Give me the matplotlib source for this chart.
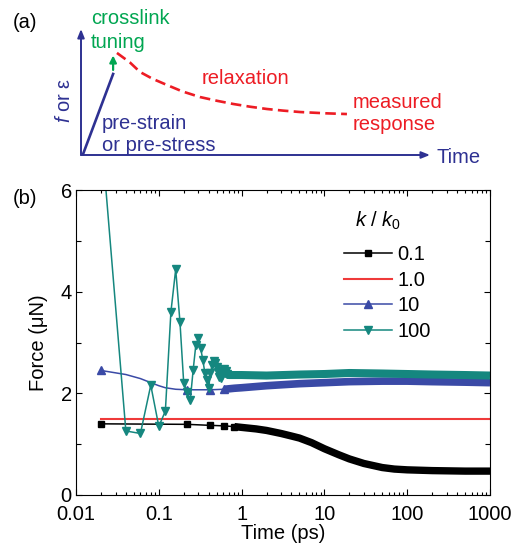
import matplotlib
matplotlib.use("Agg")
import matplotlib.pyplot as plt
from matplotlib.ticker import FixedLocator, LogLocator, NullFormatter

plt.rcParams["font.family"] = ["Liberation Sans", "DejaVu Sans"]
plt.rcParams["mathtext.fontset"] = "custom"
plt.rcParams["mathtext.rm"] = "Liberation Sans"
plt.rcParams["mathtext.it"] = "Liberation Sans:italic"

# ---- panel (b) data ----
t_01 = [0.02, 0.22, 0.42, 0.62, 0.82, 1.0, 1.5, 2.0, 3.0, 4.0, 5.0, 7.0, 10, 15, 20, 30, 50, 70, 100, 200, 500, 1000]
f_01 = [1.40, 1.39, 1.37, 1.36, 1.345, 1.33, 1.30, 1.27, 1.21, 1.16, 1.12, 1.03, 0.91, 0.79, 0.71, 0.62, 0.54, 0.51, 0.495, 0.48, 0.47, 0.47]

t_1 = [0.02, 1000]
f_1 = [1.5, 1.5]

t_10 = [0.02, 0.04, 0.06, 0.08, 0.10, 0.12, 0.16, 0.22, 0.32, 0.42, 0.62, 0.82, 1.0, 2.0, 5.0, 10, 20, 50, 100, 200, 500, 1000]
f_10 = [2.45, 2.37, 2.29, 2.21, 2.15, 2.11, 2.08, 2.07, 2.07, 2.07, 2.08, 2.10, 2.11, 2.15, 2.19, 2.21, 2.23, 2.24, 2.24, 2.23, 2.22, 2.21]

t_100 = [0.02, 0.04, 0.06, 0.08, 0.10, 0.12, 0.14, 0.16, 0.18, 0.20,
         0.22, 0.24, 0.26, 0.28, 0.30, 0.32, 0.34, 0.36, 0.38, 0.40,
         0.42, 0.44, 0.46, 0.48, 0.50, 0.52, 0.54, 0.56, 0.58, 0.60,
         0.62, 0.64, 0.66, 0.70, 1.0, 2.0, 5.0, 10, 20, 50, 100, 200, 500, 1000]
f_100 = [7.2, 1.26, 1.21, 2.16, 1.35, 1.65, 3.60, 4.44, 3.41, 2.20,
         2.03, 1.87, 2.46, 2.95, 3.08, 2.89, 2.66, 2.40, 2.26, 2.10,
         2.40, 2.55, 2.64, 2.60, 2.52, 2.42, 2.33, 2.30, 2.36, 2.44,
         2.47, 2.43, 2.38, 2.36, 2.36, 2.35, 2.37, 2.38, 2.40, 2.39, 2.38, 2.37, 2.36, 2.35]

x_ticks = [0.01, 0.1, 1, 10, 100, 1000]
x_labels = ["0.01", "0.1", "1", "10", "100", "1000"]

# ---- panel (a) schematic, in axis-fraction units ----
prestrain_u = [0.006, 0.092]
prestrain_v = [0.008, 0.643]
relax_u = [0.103, 0.140, 0.169, 0.205, 0.246, 0.290, 0.341, 0.390, 0.436, 0.485, 0.533, 0.580, 0.628, 0.700, 0.762]
relax_v = [0.810, 0.735, 0.659, 0.605, 0.556, 0.505, 0.460, 0.430, 0.405, 0.383, 0.365, 0.352, 0.341, 0.331, 0.325]

NAVY = "#2e3192"
GREEN = "#00a651"
RED_A = "#ed1c24"
FS = 14.5

fig = plt.figure(figsize=(5.16, 5.53), dpi=100)

# ---------------- (a) ----------------
axa = fig.add_axes([81 / 516, 1 - 155 / 553, 349 / 516, 126 / 553])
axa.set_xlim(0, 1)
axa.set_ylim(0, 1)
axa.axis("off")
arrow = dict(arrowstyle="-|>,head_length=0.5,head_width=0.2", color=NAVY, lw=1.4, shrinkA=0, shrinkB=0)
axa.annotate("", xy=(1.0, 0), xytext=(0, 0), arrowprops=arrow, annotation_clip=False)
axa.annotate("", xy=(0, 1.0), xytext=(0, 0), arrowprops=arrow, annotation_clip=False)
axa.plot(prestrain_u, prestrain_v, color=NAVY, lw=1.9, clip_on=False)
axa.annotate("", xy=(0.092, 0.79), xytext=(0.092, 0.675), annotation_clip=False,
             arrowprops=dict(arrowstyle="-|>,head_length=0.4,head_width=0.2", color=GREEN, lw=1.6, shrinkA=0, shrinkB=0))
axa.plot(relax_u, relax_v, color=RED_A, lw=1.9, dashes=(4, 2), clip_on=False)

axa.text(0.029, 0.99, "crosslink\ntuning", color=GREEN, fontsize=FS, va="center", ha="left", linespacing=1.3)
axa.text(0.347, 0.611, "relaxation", color=RED_A, fontsize=FS, va="center", ha="left")
axa.text(0.779, 0.33, "measured\nresponse", color=RED_A, fontsize=FS, va="center", ha="left", linespacing=1.25)
axa.text(0.060, 0.16, "pre-strain\nor pre-stress", color=NAVY, fontsize=FS, va="center", ha="left", linespacing=1.2)
axa.text(1.02, -0.016, "Time", color=NAVY, fontsize=FS, va="center", ha="left")
axa.text(-0.046, 0.437, r"$f$ or ε", color=NAVY, fontsize=FS, va="center", ha="center", rotation=90)
fig.text(13 / 516, 1 - 22 / 553, "(a)", fontsize=FS, va="center", ha="left")

# ---------------- (b) ----------------
ax = fig.add_axes([76 / 516, 1 - 495 / 553, 414 / 516, 305 / 553])
ax.set_xscale("log")

# black, k/k0 = 0.1
ax.plot(t_01, f_01, color="black", lw=1.1, marker="s", ms=5, markevery=[0, 1, 2, 3, 4], label="0.1")
ax.plot(t_01[4:], f_01[4:], color="black", lw=5.3, solid_capstyle="butt", solid_joinstyle="round")
# red, k/k0 = 1.0
ax.plot(t_1, f_1, color="#ef3a3a", lw=1.5, label="1.0")
# blue, k/k0 = 10
ax.plot(t_10, f_10, color="#3a4aa6", lw=1.1, marker="^", ms=6, markevery=[0, 7, 9, 10], label="10")
ax.plot(t_10[10:], f_10[10:], color="#3a4aa6", lw=5.5, solid_capstyle="butt", solid_joinstyle="round")
# teal, k/k0 = 100
ax.plot(t_100, f_100, color="#15877f", lw=1.1, marker="v", ms=6, markevery=list(range(33)), label="100")
ax.plot(t_100[29:], f_100[29:], color="#15877f", lw=5.8, solid_capstyle="butt", solid_joinstyle="round")

ax.set_xlim(0.01, 1000)
ax.set_ylim(0, 6)
ax.xaxis.set_major_locator(FixedLocator(x_ticks))
ax.set_xticklabels(x_labels)
ax.xaxis.set_minor_locator(LogLocator(base=10, subs=range(2, 10), numticks=20))
ax.xaxis.set_minor_formatter(NullFormatter())
ax.set_yticks([0, 2, 4, 6])
ax.yaxis.set_minor_locator(FixedLocator([1, 3, 5]))
ax.tick_params(which="both", direction="in", top=True, right=True, labelsize=FS, width=0.8)
ax.tick_params(which="major", length=4.5, pad=3)
ax.tick_params(which="minor", length=2.5)
ax.tick_params(axis="y", which="minor", length=3.5)
ax.tick_params(axis="x", which="major", pad=7)
for s in ax.spines.values():
    s.set_linewidth(0.8)

ax.set_xlabel("Time (ps)", fontsize=FS, labelpad=0.5)
ax.set_ylabel("Force (μN)", fontsize=FS, labelpad=9)

leg = ax.legend(loc="upper left", bbox_to_anchor=(0.628, 0.846), borderaxespad=0, frameon=False,
                fontsize=FS, handlelength=2.4, handletextpad=0.25, labelspacing=0.33)
ax.text(0.730, 0.898, r"$k$ / $k_0$", transform=ax.transAxes, fontsize=FS, ha="center", va="center")
fig.text(13 / 516, 1 - 198 / 553, "(b)", fontsize=FS, va="center", ha="left")

fig.savefig("out.png", dpi=100)
